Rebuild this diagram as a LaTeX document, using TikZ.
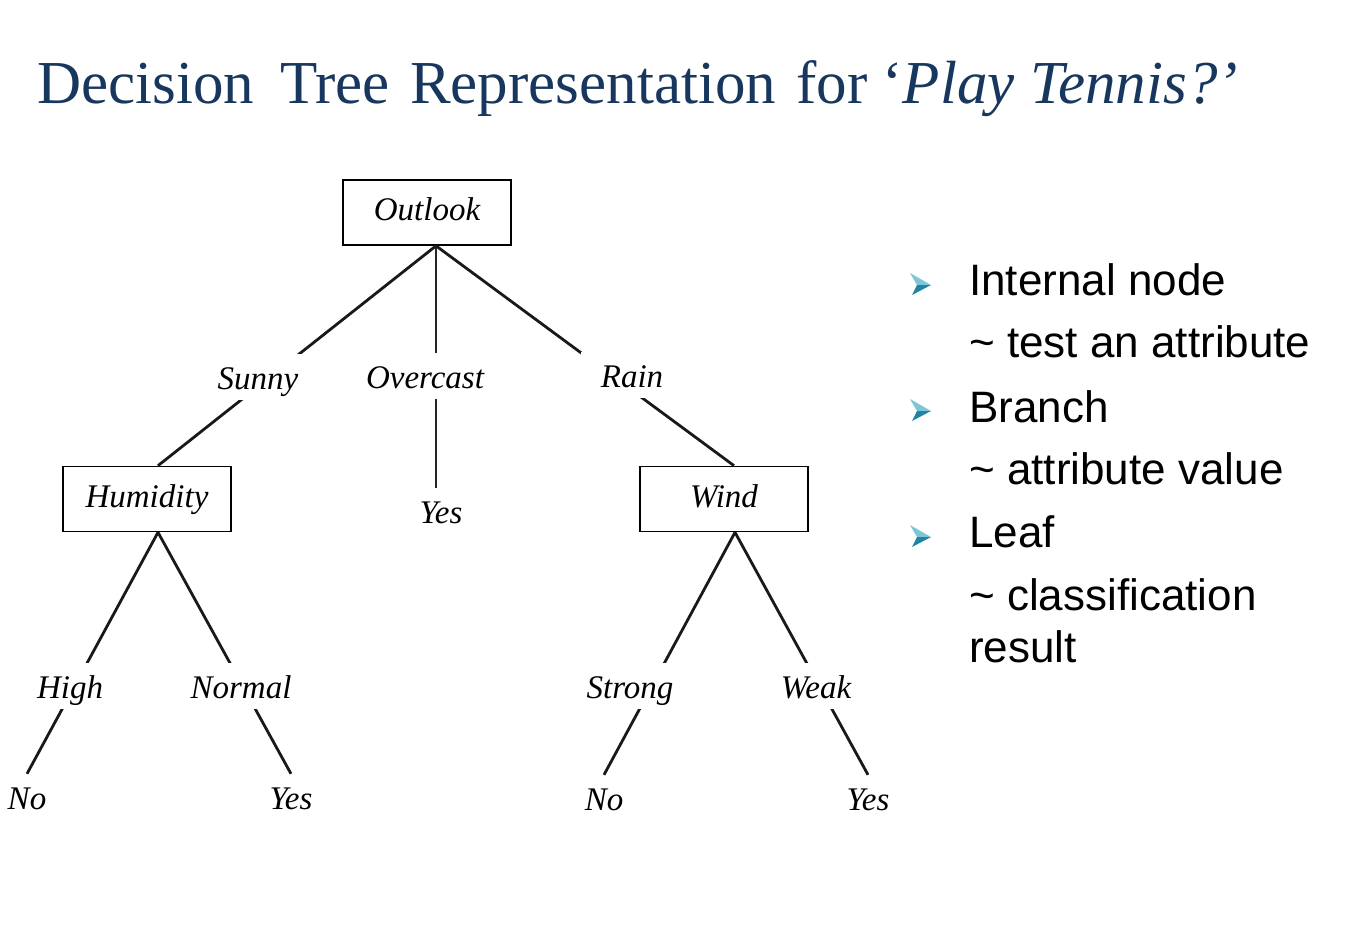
\documentclass[tikz,border=0pt]{standalone}
\usepackage{fontspec}
\setmainfont{Liberation Serif}
\newfontfamily\notesans{Liberation Sans}
\definecolor{titleblue}{RGB}{23,55,94}
\definecolor{bulletlight}{RGB}{125,198,216}
\definecolor{bulletdark}{RGB}{36,130,162}

\begin{document}
\begin{tikzpicture}[x=1pt,y=-1pt,
  attrbox/.style={draw=black, line width=1.7pt, minimum width=168pt, minimum height=65pt,
    inner sep=0pt, text height=22pt, text depth=6pt,
    font=\fontsize{33}{36}\selectfont\itshape},
  lbl/.style={fill=white, anchor=base, inner xsep=8pt, inner ysep=11pt,
    text height=24pt, text depth=0pt, font=\fontsize{33}{36}\selectfont\itshape},
  edge/.style={line width=2.8pt, draw=black!90},
  thinedge/.style={line width=1.6pt, draw=black!85},
  note/.style={anchor=base west, inner sep=0pt, font=\notesans\fontsize{44}{50}\selectfont},
]
\useasboundingbox (0,0) rectangle (1348,924);
\fill[white] (0,0) rectangle (1348,924);

% title
\node[anchor=base west, inner sep=0pt, text=titleblue, font=\fontsize{61}{70}\selectfont]
  (title) at (37,103)
  {Decision\hspace{11pt} Tree\hspace{5pt} Representation\hspace{5pt} for ‘\textit{Play Tennis?’}};

% attribute tests
\node[attrbox] (outlook)  at (427,212.5) {Outlook};
\node[attrbox] (humidity) at (147,499)   {Humidity};
\node[attrbox] (wind)     at (724,499)   {Wind};

% leaves
\node[lbl] (yes0) at (441,523) {Yes};
\node[lbl] (no1)  at (27,809)  {No};
\node[lbl] (yes1) at (291,809) {Yes};
\node[lbl] (no2)  at (604,810) {No};
\node[lbl] (yes2) at (868,810) {Yes};

% branch roots
\coordinate (oroot) at ([xshift=9pt]outlook.south);
\coordinate (htop)  at ([xshift=11pt]humidity.north);
\coordinate (hroot) at ([xshift=11pt]humidity.south);
\coordinate (wtop)  at ([xshift=10pt]wind.north);
\coordinate (wroot) at ([xshift=11pt]wind.south);

% branches
\draw[edge] (oroot) -- (htop);
\draw[thinedge] (oroot) -- (oroot |- yes0.north);
\draw[edge] (oroot) -- (wtop);
\draw[edge] (hroot) -- (no1.north);
\draw[edge] (hroot) -- (yes1.north);
\draw[edge] (wroot) -- (no2.north);
\draw[edge] (wroot) -- (yes2.north);

% attribute values on the branches
\node[lbl] (sunny)    at (258,389) {Sunny};
\node[lbl] (overcast) at (425,388) {Overcast};
\node[lbl, inner xsep=20pt] (rain) at (632,387) {Rain};
\node[lbl] (high)     at (70,698)  {High};
\node[lbl] (normal)   at (241,698) {Normal};
\node[lbl] (strong)   at (630,698) {Strong};
\node[lbl] (weak)     at (816,698) {Weak};

% notes
\foreach \by in {284,410,536}{
  \fill[bulletlight] (910,{\by-11}) -- (931,{\by+1}) -- (917,{\by+1}) -- cycle;
  \fill[bulletdark]  (917,{\by+1}) -- (931,{\by+1}) -- (912,{\by+11}) -- cycle;
}
\node[note] (n1) at (969,295) {Internal node};
\node[note] (n2) at (969,357) {\textasciitilde{} test an attribute};
\node[note] (n3) at (969,422) {Branch};
\node[note] (n4) at (969,484) {\textasciitilde{} attribute value};
\node[note] (n5) at (969,547) {Leaf};
\node[note] (n6) at (969,610) {\textasciitilde{} classification};
\node[note] (n7) at (969,662) {result};
\end{tikzpicture}
\end{document}
